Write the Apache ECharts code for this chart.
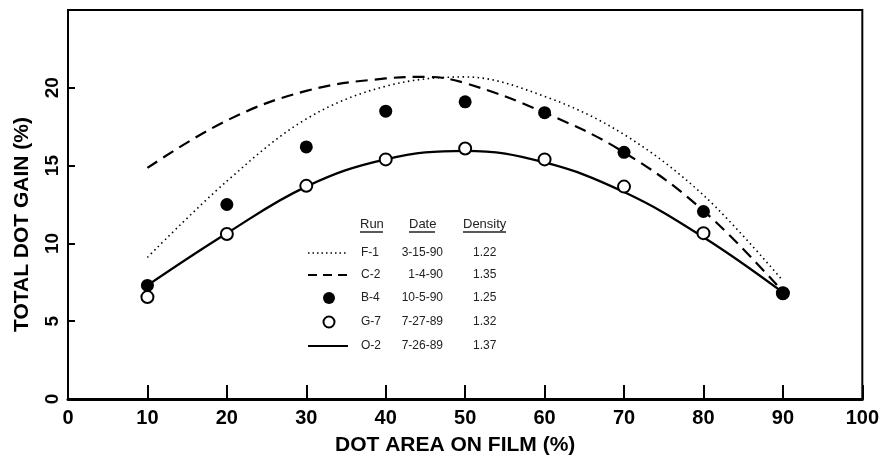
<!DOCTYPE html>
<html>
<head>
<meta charset="utf-8">
<script src="https://cdn.jsdelivr.net/npm/echarts@6/dist/echarts.min.js"></script>
<style>
html,body{margin:0;padding:0;background:#fff;}
#chart{width:882px;height:464px;}
</style>
</head>
<body>
<div id="chart"></div>
<script>
// ---- data ----
var dotX = [10, 20, 30, 40, 50, 60, 70, 80, 90];
var b4Values = [7.3, 12.5, 16.2, 18.5, 19.1, 18.4, 15.85, 12.05, 6.8];   // filled circles
var g7Values = [6.55, 10.6, 13.7, 15.4, 16.1, 15.4, 13.65, 10.66, 6.8]; // open circles

var f1X = [10, 20, 30, 40, 50, 60, 70, 80, 90];
var f1Values = [9.1, 14.0, 18.0, 20.1, 20.7, 19.45, 17.0, 13.1, 7.6];   // dotted
var c2X = [10, 20, 30, 40, 45, 50, 60, 70, 80, 90];
var c2Values = [14.85, 17.9, 19.8, 20.6, 20.7, 20.3, 18.4, 15.85, 12.1, 6.9]; // dashed
var o2X = [10, 20, 30, 40, 50, 60, 70, 80, 90];
var o2Values = [7.3, 10.65, 13.65, 15.4, 15.95, 15.2, 13.3, 10.4, 6.85]; // solid

var xTicks = [0, 10, 20, 30, 40, 50, 60, 70, 80, 90, 100];
var yTicks = [0, 5, 10, 15, 20];

var legendRuns = ['F-1', 'C-2', 'B-4', 'G-7', 'O-2'];
var legendDates = ['3-15-90', '1-4-90', '10-5-90', '7-27-89', '7-26-89'];
var legendDensity = ['1.22', '1.35', '1.25', '1.32', '1.37'];

function pairs(xs, ys) { return xs.map(function (x, i) { return [x, ys[i]]; }); }

var FONT = "'Liberation Sans Narrow', 'Arial Narrow', 'Liberation Sans', Arial, sans-serif";
var chart = echarts.init(document.getElementById('chart'), null, {renderer: 'canvas'});

// legend table (graphic text)
var g = [];
var rowY = [253, 275, 298, 322, 346];
function txt(x, y, s, align, size) {
  return {type: 'text', x: x, y: y, silent: true,
    style: {text: s, fontFamily: FONT, fontSize: size || 12, fill: '#222', align: align || 'left', verticalAlign: 'middle'}};
}
g.push(txt(360, 224, 'Run', 'left', 13));
g.push(txt(409, 224, 'Date', 'left', 13));
g.push(txt(463, 224, 'Density', 'left', 13));
g.push({type: 'line', silent: true, shape: {x1: 360, y1: 232, x2: 383, y2: 232}, style: {stroke: '#222', lineWidth: 1.5}});
g.push({type: 'line', silent: true, shape: {x1: 409, y1: 232, x2: 435, y2: 232}, style: {stroke: '#222', lineWidth: 1.5}});
g.push({type: 'line', silent: true, shape: {x1: 463, y1: 232, x2: 506, y2: 232}, style: {stroke: '#222', lineWidth: 1.5}});
for (var i = 0; i < legendRuns.length; i++) {
  g.push(txt(361, rowY[i], legendRuns[i], 'left'));
  g.push(txt(443, rowY[i], legendDates[i], 'right'));
  g.push(txt(473, rowY[i], legendDensity[i], 'left'));
}
g.push({type: 'line', silent: true, shape: {x1: 308, y1: rowY[0], x2: 348, y2: rowY[0]}, style: {stroke: '#000', lineWidth: 1.5, lineDash: [1.5, 3]}});
g.push({type: 'line', silent: true, shape: {x1: 308, y1: rowY[1], x2: 348, y2: rowY[1]}, style: {stroke: '#000', lineWidth: 2.2, lineDash: [9, 6]}});
g.push({type: 'circle', silent: true, shape: {cx: 329, cy: rowY[2], r: 6}, style: {fill: '#000'}});
g.push({type: 'circle', silent: true, shape: {cx: 329, cy: rowY[3], r: 5.5}, style: {fill: '#fff', stroke: '#000', lineWidth: 2}});
g.push({type: 'line', silent: true, shape: {x1: 308, y1: rowY[4], x2: 348, y2: rowY[4]}, style: {stroke: '#000', lineWidth: 2.2}});

var option = {
  backgroundColor: '#fff',
  animation: false,
  grid: {left: 68, right: 15, top: 10, bottom: 65, show: true, borderColor: '#000', borderWidth: 2, backgroundColor: 'transparent'},
  xAxis: {
    type: 'value', min: 0, max: 100, interval: 10,
    name: 'DOT AREA ON FILM (%)', nameLocation: 'middle', nameGap: 36,
    nameTextStyle: {fontFamily: FONT, fontSize: 21, fontWeight: 'bold', color: '#000', padding: [0, 20, 0, 0]},
    axisLine: {show: true, lineStyle: {color: '#000', width: 3}},
    axisTick: {show: true, inside: true, length: 14, lineStyle: {color: '#000', width: 2}},
    axisLabel: {fontFamily: FONT, fontSize: 20, fontWeight: 'bold', color: '#000', margin: 9,
      formatter: function (v) { return xTicks.indexOf(v) >= 0 ? String(v) : ''; }},
    splitLine: {show: false}
  },
  yAxis: {
    type: 'value', min: 0, max: 25, interval: 5,
    name: 'TOTAL DOT GAIN (%)', nameLocation: 'middle', nameGap: 35,
    nameTextStyle: {fontFamily: FONT, fontSize: 21, fontWeight: 'bold', color: '#000', padding: [0, 40, 0, 0]},
    axisLine: {show: true, lineStyle: {color: '#000', width: 2}},
    axisTick: {show: true, inside: true, length: 7, lineStyle: {color: '#000', width: 2}},
    axisLabel: {rotate: 90, showMaxLabel: false, fontFamily: FONT, fontSize: 19, fontWeight: 'bold', color: '#000', margin: 6,
      formatter: function (v) { return yTicks.indexOf(v) >= 0 ? String(v) : ''; }},
    splitLine: {show: false}
  },
  series: [
    {name: 'F-1', type: 'line', data: pairs(f1X, f1Values), smooth: 0.35, showSymbol: false, symbol: 'none',
      lineStyle: {color: '#000', width: 1.6, type: [1.5, 3.5]}, z: 2},
    {name: 'C-2', type: 'line', data: pairs(c2X, c2Values), smooth: 0.4, showSymbol: false, symbol: 'none',
      lineStyle: {color: '#000', width: 2.2, type: [12, 7]}, z: 2},
    {name: 'O-2', type: 'line', data: pairs(o2X, o2Values), smooth: 0.4, showSymbol: false, symbol: 'none',
      lineStyle: {color: '#000', width: 2.3}, z: 2},
    {name: 'G-7', type: 'scatter', data: pairs(dotX, g7Values), symbol: 'circle', symbolSize: 12,
      itemStyle: {color: '#fff', borderColor: '#000', borderWidth: 2, opacity: 1}, z: 3},
    {name: 'B-4', type: 'scatter', data: pairs(dotX, b4Values), symbol: 'circle', symbolSize: 13,
      itemStyle: {color: '#000', opacity: 1}, z: 4}
  ],
  graphic: g
};
chart.setOption(option);
</script>
</body>
</html>
